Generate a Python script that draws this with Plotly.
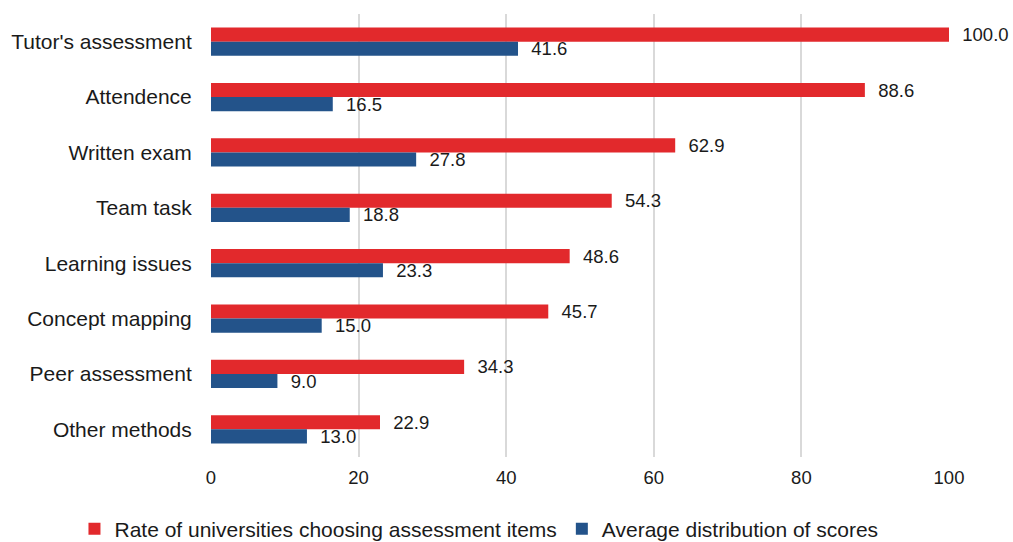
import plotly.graph_objects as go

categories = ["Tutor's assessment", "Attendence", "Written exam", "Team task",
              "Learning issues", "Concept mapping", "Peer assessment", "Other methods"]
rate = [100.0, 88.6, 62.9, 54.3, 48.6, 45.7, 34.3, 22.9]
avg = [41.6, 16.5, 27.8, 18.8, 23.3, 15.0, 9.0, 13.0]
series_names = ["Rate of universities choosing assessment items", "Average distribution of scores"]
x_ticks = [0, 20, 40, 60, 80, 100]

RED = "#e2292c"
BLUE = "#23538a"
FONT = "Liberation Sans, Arial, sans-serif"
PAD = "\u00a0\u00a0"

fig = go.Figure()
fig.add_trace(go.Bar(y=categories, x=rate, orientation="h", name=series_names[0],
                     marker=dict(color=RED, line=dict(width=0)),
                     texttemplate=PAD + "%{x:.1f}", textposition="outside",
                     constraintext="none",
                     textfont=dict(size=18.5, color="#1a1a1a", family=FONT),
                     cliponaxis=False))
fig.add_trace(go.Bar(y=categories, x=avg, orientation="h", name=series_names[1],
                     marker=dict(color=BLUE, line=dict(width=0)),
                     texttemplate=PAD + "%{x:.1f}", textposition="outside",
                     constraintext="none",
                     textfont=dict(size=18.5, color="#1a1a1a", family=FONT),
                     cliponaxis=False))

fig.update_layout(
    width=1013, height=542,
    margin=dict(l=211, r=64, t=14, b=85, autoexpand=False),
    barmode="group", bargap=0.49, bargroupgap=0,
    plot_bgcolor="white", paper_bgcolor="white",
    font=dict(family=FONT, color="#1a1a1a"),
    xaxis=dict(range=[0, 100], tickvals=x_ticks, showgrid=True, gridcolor="#d9d9d9",
               gridwidth=1.5, zeroline=False, showline=False,
               tickfont=dict(size=18.5), ticks="outside", ticklen=4, tickcolor="rgba(0,0,0,0)"),
    yaxis=dict(categoryorder="array", categoryarray=categories, range=[7.5, -0.5],
               showgrid=False, zeroline=False, showline=False,
               tickfont=dict(size=21), ticks="outside", ticklen=14, tickcolor="rgba(0,0,0,0)"),
    legend=dict(orientation="h", x=-0.185, xanchor="left",
                y=-0.1625, yanchor="middle",
                font=dict(size=21), traceorder="normal"),
    showlegend=True,
)

fig.write_html("out.html")
